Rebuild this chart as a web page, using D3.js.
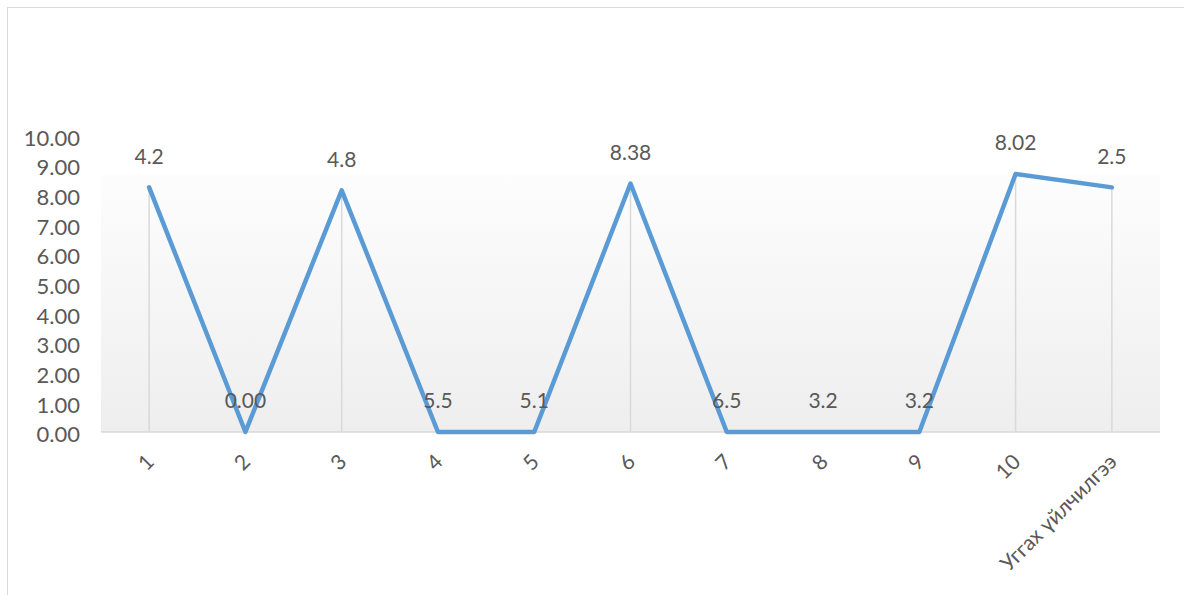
<!DOCTYPE html>
<html>
<head>
<meta charset="utf-8">
<script src="https://cdn.jsdelivr.net/npm/d3@7"></script>
<style>
  html, body { margin: 0; padding: 0; background: #ffffff; }
  svg { display: block; }
  text { font-family: Lato, "Open Sans", sans-serif; fill: #595959; }
</style>
</head>
<body>
<svg id="chart" width="1184" height="595"></svg>
<script>
// Categories along the x axis
const categories = ["1", "2", "3", "4", "5", "6", "7", "8", "9", "10", "Уггах үйлчилгээ"];
// Plotted values of the line series
const values = [8.25, 0, 8.15, 0, 0, 8.38, 0, 0, 0, 8.7, 8.25];
// Text shown above each point
const pointLabels = ["4.2", "0.00", "4.8", "5.5", "5.1", "8.38", "6.5", "3.2", "3.2", "8.02", "2.5"];
// Value axis ticks
const yTicks = [0, 1, 2, 3, 4, 5, 6, 7, 8, 9, 10];

const svg = d3.select("#chart");

// Chart frame
svg.append("rect")
  .attr("x", 7.5).attr("y", 7.5)
  .attr("width", 1300).attr("height", 800)
  .attr("fill", "none").attr("stroke", "#d9d9d9").attr("stroke-width", 1);

const plot = { left: 101, right: 1160, top: 135.5, bottom: 432 };

const x = d3.scalePoint()
  .domain(categories)
  .range([plot.left, plot.right])
  .padding(0.5);

const y = d3.scaleLinear()
  .domain([0, 10])
  .range([plot.bottom, plot.top]);

// Plot-area background gradient
const defs = svg.append("defs");
const grad = defs.append("linearGradient")
  .attr("id", "plotBg").attr("x1", 0).attr("y1", 0).attr("x2", 0).attr("y2", 1);
grad.append("stop").attr("offset", "0%").attr("stop-color", "#fdfdfd");
grad.append("stop").attr("offset", "100%").attr("stop-color", "#eeeeee");

svg.append("rect")
  .attr("x", plot.left).attr("y", 175)
  .attr("width", plot.right - plot.left).attr("height", plot.bottom - 175)
  .attr("fill", "url(#plotBg)");

// Drop lines from each point to the axis
svg.append("g").selectAll("line")
  .data(categories)
  .join("line")
  .attr("x1", d => x(d)).attr("x2", d => x(d))
  .attr("y1", (d, i) => y(values[i])).attr("y2", y(0))
  .attr("stroke", "#d9d9d9").attr("stroke-width", 1.5);

// Category axis line
svg.append("line")
  .attr("x1", plot.left).attr("x2", plot.right)
  .attr("y1", y(0)).attr("y2", y(0))
  .attr("stroke", "#d9d9d9").attr("stroke-width", 1.5);

// Value axis labels
svg.append("g").selectAll("text")
  .data(yTicks)
  .join("text")
  .attr("x", 80)
  .attr("y", d => y(d) + 2.5)
  .attr("dy", "0.35em")
  .attr("text-anchor", "end")
  .style("font-size", "22px")
  .text(d => d3.format(".2f")(d));

// Category labels, rotated
svg.append("g").selectAll("text")
  .data(categories)
  .join("text")
  .attr("transform", d => `translate(${x(d) + 1},${458}) rotate(-45)`)
  .attr("dy", "0.35em")
  .attr("text-anchor", "end")
  .style("font-size", "21px")
  .text(d => d);

// Series line
const line = d3.line()
  .x((d, i) => x(categories[i]))
  .y(d => y(d));

svg.append("path")
  .datum(values)
  .attr("d", line)
  .attr("fill", "none")
  .attr("stroke", "#5b9bd5")
  .attr("stroke-width", 4.5)
  .attr("stroke-linejoin", "round")
  .attr("stroke-linecap", "round");

// Point labels
svg.append("g").selectAll("text")
  .data(values)
  .join("text")
  .attr("x", (d, i) => x(categories[i]))
  .attr("y", d => y(d) - 31)
  .attr("dy", "0.35em")
  .attr("text-anchor", "middle")
  .style("font-size", "21px")
  .text((d, i) => pointLabels[i]);
</script>
</body>
</html>
